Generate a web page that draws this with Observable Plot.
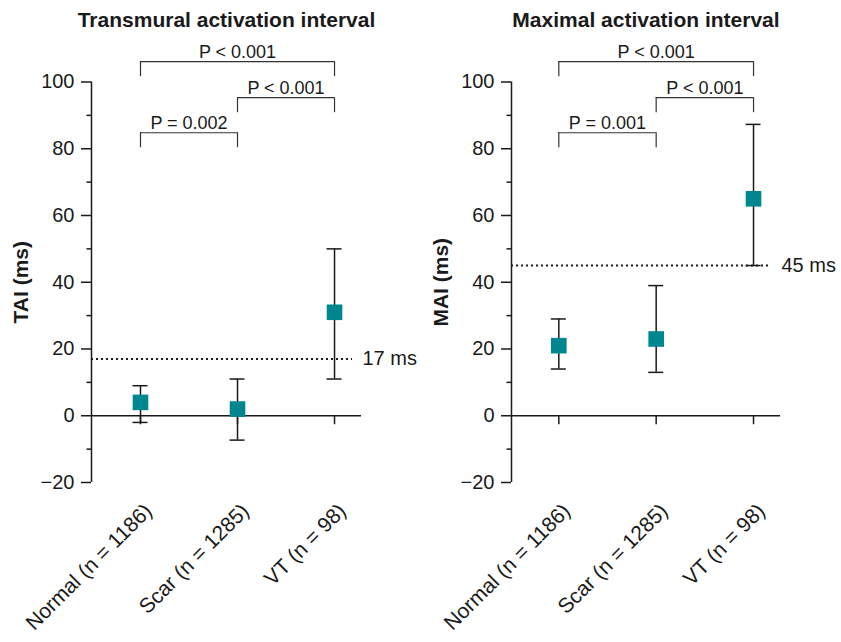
<!DOCTYPE html>
<html>
<head>
<meta charset="utf-8">
<script src="https://cdn.jsdelivr.net/npm/d3@7"></script>
<script src="https://cdn.jsdelivr.net/npm/@observablehq/plot@0.6"></script>
<style>
  html, body { margin: 0; padding: 0; background: #fff; }
  #wrap { display: flex; width: 841px; height: 642px; }
  svg { font-family: "Liberation Sans", Arial, Helvetica, sans-serif; }
</style>
</head>
<body>
<div id="wrap"></div>
<script>
// ---- data ----
const categories = ["Normal (n = 1186)", "Scar (n = 1285)", "VT (n = 98)"];

const taiMean = [4, 2, 31];
const taiLow  = [-2, -7.3, 11];
const taiHigh = [9, 11, 50];
const taiThreshold = 17;
const taiThresholdLabel = "17 ms";

const maiMean = [21, 23, 65];
const maiLow  = [14, 13, 45];
const maiHigh = [29, 39, 87.3];
const maiThreshold = 45;
const maiThresholdLabel = "45 ms";

// brackets: from index, to index, level, label
const taiBracketFrom  = [0, 1, 0];
const taiBracketTo    = [2, 2, 1];
const taiBracketLevel = [106.1, 95.3, 84.8];
const taiBracketLabel = ["P < 0.001", "P < 0.001", "P = 0.002"];

const maiBracketFrom  = [0, 1, 0];
const maiBracketTo    = [2, 2, 1];
const maiBracketLevel = [106.1, 95.3, 84.8];
const maiBracketLabel = ["P < 0.001", "P < 0.001", "P = 0.001"];

const yMajor = [-20, 0, 20, 40, 60, 80, 100];
const yMinor = [-10, 10, 30, 50, 70, 90];

const teal = "#00868f";
const ink = "#1a1a1a";

function panel({title, ylabel, mean, low, high, threshold, thresholdLabel,
                bFrom, bTo, bLevel, bLabel, width, marginRight, xDomain}) {
  const pts = categories.map((c, i) => ({i, c, mean: mean[i], low: low[i], high: high[i]}));
  const brackets = bFrom.map((f, k) => ({from: f, to: bTo[k], level: bLevel[k], label: bLabel[k]}));
  return Plot.plot({
    width,
    height: 642,
    marginTop: 81.5,
    marginBottom: 160,
    marginLeft: 91,
    marginRight,
    style: {fontFamily: '"Liberation Sans", Arial, sans-serif', fontSize: "18px", color: ink, background: "white"},
    x: {type: "linear", domain: xDomain, axis: null},
    y: {domain: [-20, 100], axis: null},
    marks: [
      // y axis line
      Plot.ruleX([xDomain[0]], {stroke: ink, strokeWidth: 1.5}),
      // major y ticks with labels
      Plot.axisY(yMajor, {tickSize: 10, tickPadding: 7, stroke: ink, strokeWidth: 1.5, fontSize: 20,
        tickFormat: d => d < 0 ? "\u2212" + Math.abs(d) : String(d), label: null}),
      // minor y ticks
      Plot.axisY(yMinor, {tickSize: 4.5, tickFormat: () => "", stroke: ink, strokeWidth: 1.5, label: null}),
      // y label
      Plot.text([ylabel], {frameAnchor: "left", rotate: -90, dx: -70, textAnchor: "middle",
        lineAnchor: "middle", fontWeight: "bold", fontSize: 21, fill: ink}),
      // title
      Plot.text([title], {frameAnchor: "top", dy: -55, textAnchor: "middle", lineAnchor: "bottom",
        fontWeight: "bold", fontSize: 21, fill: ink}),
      // zero line (x axis)
      Plot.ruleY([0], {stroke: ink, strokeWidth: 1.5}),
      // x ticks at zero line
      Plot.ruleX(pts, {x: "i", y1: 0, y2: 0, insetBottom: -9, stroke: ink, strokeWidth: 1.5}),
      // category labels
      Plot.text(pts, {x: "i", text: "c", frameAnchor: "bottom", rotate: -45, textAnchor: "end",
        lineAnchor: "middle", dx: 8, dy: 25, fontSize: 21, fill: ink}),
      // threshold
      Plot.ruleY([threshold], {stroke: ink, strokeWidth: 2, strokeDasharray: "2,3", insetRight: 9}),
      Plot.text([thresholdLabel], {y: () => threshold, frameAnchor: "right", textAnchor: "start",
        lineAnchor: "middle", dx: 1, fontSize: 20, fill: ink}),
      // error bars
      Plot.ruleX(pts, {x: "i", y1: "low", y2: "high", stroke: ink, strokeWidth: 1.5}),
      Plot.ruleY(pts, {y: "low", x1: "i", x2: "i", insetLeft: -7.5, insetRight: -7.5, stroke: ink, strokeWidth: 1.5}),
      Plot.ruleY(pts, {y: "high", x1: "i", x2: "i", insetLeft: -7.5, insetRight: -7.5, stroke: ink, strokeWidth: 1.5}),
      // means
      Plot.dot(pts, {x: "i", y: "mean", symbol: "square", r: 8.8, fill: teal, stroke: null}),
      // brackets
      Plot.ruleY(brackets, {y: "level", x1: "from", x2: "to", stroke: "#333", strokeWidth: 1.2}),
      Plot.ruleX(brackets, {x: "from", y1: "level", y2: "level", insetBottom: -15, stroke: "#333", strokeWidth: 1.2}),
      Plot.ruleX(brackets, {x: "to", y1: "level", y2: "level", insetBottom: -15, stroke: "#333", strokeWidth: 1.2}),
      Plot.text(brackets, {x: d => (d.from + d.to) / 2, y: "level", text: "label", textAnchor: "middle",
        lineAnchor: "bottom", dy: -4, fontSize: 18, fill: ink})
    ]
  });
}

const wrap = document.getElementById("wrap");
wrap.appendChild(panel({
  title: "Transmural activation interval", ylabel: "TAI (ms)",
  mean: taiMean, low: taiLow, high: taiHigh, threshold: taiThreshold, thresholdLabel: taiThresholdLabel,
  bFrom: taiBracketFrom, bTo: taiBracketTo, bLevel: taiBracketLevel, bLabel: taiBracketLabel,
  width: 420, marginRight: 59, xDomain: [-0.505, 2.278]
}));
wrap.appendChild(panel({
  title: "Maximal activation interval", ylabel: "MAI (ms)",
  mean: maiMean, low: maiLow, high: maiHigh, threshold: maiThreshold, thresholdLabel: maiThresholdLabel,
  bFrom: maiBracketFrom, bTo: maiBracketTo, bLevel: maiBracketLevel, bLabel: maiBracketLabel,
  width: 421, marginRight: 61, xDomain: [-0.486, 2.277]
}));
</script>
</body>
</html>
